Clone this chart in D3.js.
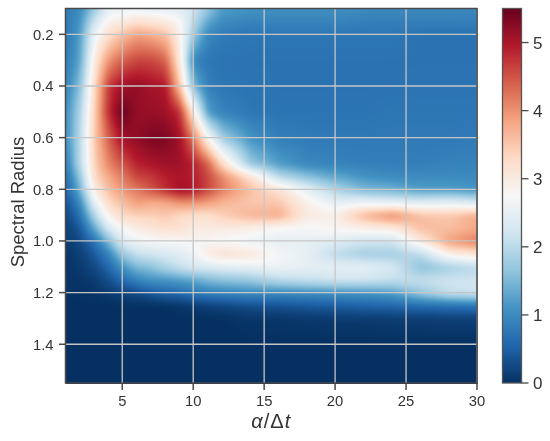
<!DOCTYPE html>
<html><head><meta charset="utf-8">
<script src="https://cdnjs.cloudflare.com/ajax/libs/d3/7.8.5/d3.min.js"></script>
<style>html,body{margin:0;padding:0;background:#fff;width:550px;height:441px;overflow:hidden}
canvas,svg{position:absolute;left:0;top:0}
text{font-family:"Liberation Sans",Arial,sans-serif;fill:#333}</style></head>
<body><canvas id="heat" width="550" height="441"></canvas><svg id="chart" width="550" height="441"></svg>
<script>
const alphaValues = [1,2,3,4,5,6,7,8,9,10,11,12,14,16,18,20,22,24,26,28,30];
const radiusValues = [0.1,0.15,0.2,0.3,0.4,0.5,0.6,0.7,0.75,0.8,0.85,0.9,0.95,1.0,1.05,1.1,1.15,1.2,1.25,1.3,1.4,1.55];
const cellValues = [
[0.8,1.0,1.7,2.5,2.5,2.6,2.5,2.5,2.4,2.2,1.7,1.2,1.1,1.05,1.05,1.05,1.0,1.0,1.0,1.0,0.95],
[0.8,1.1,2.2,2.9,3.0,3.2,3.1,3.0,2.8,2.0,1.3,1.0,0.9,0.9,0.9,0.9,0.85,0.85,0.85,0.85,0.85],
[0.75,1.2,2.6,3.2,3.6,3.9,3.8,3.6,2.9,1.7,0.95,0.8,0.75,0.75,0.75,0.75,0.75,0.75,0.7,0.7,0.7],
[0.8,1.3,3.0,4.0,4.4,4.6,4.6,4.4,3.1,0.9,0.75,0.72,0.7,0.7,0.7,0.7,0.7,0.7,0.7,0.7,0.7],
[0.9,1.6,3.3,4.7,5.1,5.2,5.05,5.0,3.6,1.5,0.85,0.75,0.72,0.7,0.7,0.7,0.7,0.7,0.72,0.72,0.72],
[1.0,1.9,3.4,4.8,5.5,5.15,5.15,5.1,4.8,3.0,1.2,0.9,0.75,0.72,0.72,0.72,0.72,0.75,0.75,0.75,0.75],
[1.0,2.0,3.5,4.4,5.1,5.2,5.35,5.35,5.1,4.2,2.8,1.8,1.1,0.85,0.8,0.78,0.78,0.78,0.78,0.78,0.8],
[0.8,2.0,3.4,4.1,4.5,4.9,5.0,5.1,5.1,4.9,4.4,3.3,1.7,1.2,0.95,0.9,0.85,0.85,0.85,0.9,0.9],
[0.6,1.7,3.3,3.8,4.2,4.6,4.7,4.9,5.0,4.9,4.6,4.1,3.2,2.0,1.6,1.3,1.1,1.0,1.0,1.0,1.0],
[0.5,1.4,3.0,3.6,4.0,4.2,4.5,4.8,5.1,5.0,4.6,4.2,3.6,3.2,2.5,1.9,1.5,1.4,1.2,1.2,1.1],
[0.3,1.0,2.5,3.3,3.6,3.9,3.8,3.8,4.0,4.0,3.9,3.7,3.5,3.5,2.9,2.5,2.6,2.5,2.4,2.5,2.3],
[0.2,0.7,1.9,2.9,3.3,3.4,3.4,3.5,3.3,3.2,3.2,3.4,3.7,3.8,3.0,2.95,3.7,4.1,3.6,3.5,3.8],
[0.15,0.4,1.3,2.3,2.75,2.95,3.1,3.2,3.2,3.0,3.0,3.0,2.9,2.7,2.7,2.8,2.9,3.0,3.6,3.6,3.8],
[0.1,0.25,0.7,1.5,2.4,2.6,2.7,2.75,2.75,2.8,2.8,2.7,2.6,2.5,2.5,2.4,2.2,2.2,3.0,3.9,4.2],
[0.05,0.15,0.4,0.9,1.7,2.1,2.2,2.3,2.4,2.6,3.0,3.2,3.1,2.7,2.5,2.0,1.8,1.8,2.0,2.9,3.1],
[0.05,0.1,0.25,0.55,1.1,1.5,1.6,1.9,2.1,2.3,2.3,2.4,2.5,2.6,2.5,2.5,2.5,2.3,1.6,1.8,2.0],
[0.05,0.05,0.1,0.3,0.6,0.9,1.1,1.1,1.2,1.3,1.5,1.6,1.7,2.0,2.1,2.2,2.2,2.1,2.1,2.2,2.2],
[0.02,0.02,0.05,0.1,0.2,0.25,0.4,0.55,0.6,0.75,0.85,0.9,1.0,0.95,1.0,1.05,1.1,1.2,1.7,2.1,2.2],
[0,0,0,0,0,0,0,0,0.05,0.1,0.15,0.2,0.3,0.35,0.4,0.45,0.5,0.55,0.6,0.65,0.7],
[0,0,0,0,0,0,0,0,0,0,0,0,0.05,0.05,0.08,0.1,0.1,0.12,0.12,0.15,0.15],
[0,0,0,0,0,0,0,0,0,0,0,0,0,0,0,0,0,0,0,0,0],
[0,0,0,0,0,0,0,0,0,0,0,0,0,0,0,0,0,0,0,0,0]
];
const xTickValues = [5,10,15,20,25,30];
const yTickValues = [0.2,0.4,0.6,0.8,1.0,1.2,1.4];
const barTickValues = [0,1,2,3,4,5];
const rdBuStops = ["#053061","#2166ac","#4393c3","#92c5de","#d1e5f0","#f7f7f7","#fddbc7","#f4a582","#d6604d","#b2182b","#67001f"];
const valueMax = 5.5;

const plot = {l:65.5, r:477, t:8.5, b:383};
const bar = {l:502.5, r:521.5, t:8.5, b:383};
const x = d3.scaleLinear().domain([1,30]).range([plot.l,plot.r]);
const y = d3.scaleLinear().domain([0.1,1.55]).range([plot.t,plot.b]);
const v = d3.scaleLinear().domain([0,valueMax]).range([bar.b,bar.t]);
const color = d3.scaleLinear().domain(rdBuStops.map((_,i)=>i*valueMax/10)).range(rdBuStops).clamp(true);
const xIndex = d3.scaleLinear().domain(alphaValues).range(d3.range(alphaValues.length)).clamp(true);
const yIndex = d3.scaleLinear().domain(radiusValues).range(d3.range(radiusValues.length)).clamp(true);

// heatmap raster, bilinear in the value grid then softened
const W = Math.round(plot.r-plot.l), H = Math.round(plot.b-plot.t);
const field = new Float64Array(W*H);
for(let j=0;j<H;j++){
  const fy = yIndex(y.invert(plot.t+j+.5)), j0=Math.min(Math.floor(fy),radiusValues.length-2), ty=fy-j0;
  for(let i=0;i<W;i++){
    const fx = xIndex(x.invert(plot.l+i+.5)), i0=Math.min(Math.floor(fx),alphaValues.length-2), tx=fx-i0;
    field[j*W+i]=(cellValues[j0][i0]*(1-tx)+cellValues[j0][i0+1]*tx)*(1-ty)+(cellValues[j0+1][i0]*(1-tx)+cellValues[j0+1][i0+1]*tx)*ty;
  }
}
d3.blur2({data:field,width:W,height:H},2.5);
const ctx = document.getElementById("heat").getContext("2d");
const img = ctx.createImageData(W,H);
field.forEach((val,k)=>{const c=d3.rgb(color(val));img.data[k*4]=c.r;img.data[k*4+1]=c.g;img.data[k*4+2]=c.b;img.data[k*4+3]=255;});
ctx.putImageData(img,Math.round(plot.l),Math.round(plot.t));

const svg = d3.select("#chart");
const grid = svg.append("g").attr("stroke","#c6c6c6").attr("stroke-width",1.3);
grid.selectAll("line.v").data(xTickValues).join("line").attr("x1",x).attr("x2",x).attr("y1",plot.t).attr("y2",plot.b);
grid.selectAll("line.h").data(yTickValues).join("line").attr("y1",y).attr("y2",y).attr("x1",plot.l).attr("x2",plot.r);

svg.append("rect").attr("x",plot.l).attr("y",plot.t).attr("width",plot.r-plot.l).attr("height",plot.b-plot.t)
  .attr("fill","none").attr("stroke","#4a4a4a").attr("stroke-width",1.5);

const xg = svg.append("g").selectAll("g").data(xTickValues).join("g").attr("transform",d=>`translate(${x(d)},${plot.b})`);
xg.append("line").attr("y2",7).attr("stroke","#4a4a4a").attr("stroke-width",1.5);
xg.append("text").attr("y",22.5).attr("text-anchor","middle").attr("font-size",14.8).text(d=>d);
const yg = svg.append("g").selectAll("g").data(yTickValues).join("g").attr("transform",d=>`translate(${plot.l},${y(d)})`);
yg.append("line").attr("x2",-6.5).attr("stroke","#4a4a4a").attr("stroke-width",1.5);
yg.append("text").attr("x",-12).attr("dy","0.36em").attr("text-anchor","end").attr("font-size",14.8).text(d=>d.toFixed(1));

const xl = svg.append("text").attr("x",(plot.l+plot.r)/2).attr("y",428).attr("text-anchor","middle").attr("font-size",20).attr("letter-spacing",1);
xl.append("tspan").attr("font-style","italic").text("α");
xl.append("tspan").text("/Δ");
xl.append("tspan").attr("font-style","italic").text("t");
svg.append("text").attr("transform",`translate(24,202) rotate(-90)`).attr("text-anchor","middle").attr("font-size",18.5).text("Spectral Radius");

// colorbar
const defs = svg.append("defs").append("linearGradient").attr("id","cb").attr("x1",0).attr("x2",0).attr("y1",1).attr("y2",0);
defs.selectAll("stop").data(rdBuStops).join("stop").attr("offset",(_,i)=>i/10).attr("stop-color",d=>d);
svg.append("rect").attr("x",bar.l).attr("y",bar.t).attr("width",bar.r-bar.l).attr("height",bar.b-bar.t)
  .attr("fill","url(#cb)").attr("stroke","#555").attr("stroke-width",1.3);
const bg = svg.append("g").selectAll("g").data(barTickValues).join("g").attr("transform",d=>`translate(${bar.r},${v(d)})`);
bg.append("line").attr("x2",7).attr("stroke","#4a4a4a").attr("stroke-width",1.3);
bg.append("text").attr("x",11.5).attr("dy","0.36em").attr("font-size",17).text(d=>d);
</script></body></html>
